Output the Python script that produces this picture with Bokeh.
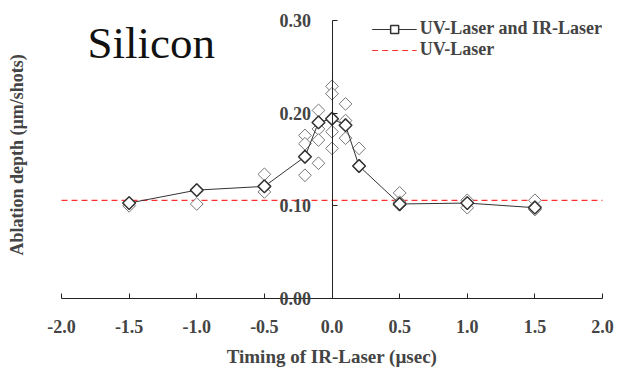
import math
from bokeh.plotting import figure
from bokeh.models import (FixedTicker, PrintfTickFormatter, Label, Legend, LegendItem, Range1d)
from bokeh.embed import file_html
from bokeh.resources import INLINE

# ---- data ----
timing = [-1.5, -1.0, -0.5, -0.2, -0.1, 0.0, 0.1, 0.2, 0.5, 1.0, 1.5]
mean_depth = [0.103, 0.117, 0.121, 0.153, 0.190, 0.194, 0.187, 0.143, 0.102, 0.103, 0.098]

shot_x = ([-1.5] * 2 + [-1.0] * 2 + [-0.5] * 3 + [-0.2] * 4 + [-0.1] * 5 +
          [0.0] * 5 + [0.1] * 4 + [0.2] * 2 + [0.5] * 3 + [1.0] * 3 + [1.5] * 3)
shot_y = [0.103, 0.100,
          0.117, 0.102,
          0.134, 0.121, 0.115,
          0.176, 0.167, 0.153, 0.133,
          0.203, 0.190, 0.183, 0.171, 0.146,
          0.229, 0.221, 0.194, 0.180, 0.162,
          0.210, 0.192, 0.187, 0.173,
          0.162, 0.143,
          0.114, 0.104, 0.101,
          0.106, 0.103, 0.098,
          0.106, 0.099, 0.096]

uv_level = 0.106
x_ticks = [-2.0, -1.5, -1.0, -0.5, 0.0, 0.5, 1.0, 1.5, 2.0]
y_ticks = [0.0, 0.10, 0.20, 0.30]

FONT = "Liberation Serif"

# frame covers the whole canvas; axes are drawn crossing at the origin
p = figure(width=620, height=369, output_backend="svg", toolbar_location=None, title=None,
           x_range=Range1d(-2.451, 2.133), y_range=Range1d(-0.0766, 0.3216),
           min_border=0)
p.outline_line_color = None
p.xgrid.visible = False
p.ygrid.visible = False
p.background_fill_color = "white"
p.border_fill_color = "white"

# x axis at y = 0
xa = p.xaxis[0]
xa.fixed_location = 0
xa.bounds = (x_ticks[0], x_ticks[-1])
xa.ticker = FixedTicker(ticks=x_ticks)
xa.formatter = PrintfTickFormatter(format="%.1f")
xa.axis_label = "Timing of IR-Laser (µsec)"
xa.axis_label_text_font = FONT
xa.axis_label_text_font_style = "bold"
xa.axis_label_text_font_size = "19px"
xa.axis_label_standoff = 10
xa.major_label_text_font = FONT
xa.major_label_text_font_style = "bold"
xa.major_label_text_font_size = "18px"
xa.major_label_standoff = 21
xa.major_tick_in = 5
xa.major_tick_out = 0
xa.minor_tick_line_color = None
xa.axis_line_color = "#222222"
xa.major_tick_line_color = "#222222"

# y axis at x = 0
ya = p.yaxis[0]
ya.fixed_location = 0
ya.bounds = (y_ticks[0], y_ticks[-1])
ya.ticker = FixedTicker(ticks=y_ticks)
ya.formatter = PrintfTickFormatter(format="%.2f")
ya.major_label_text_font = FONT
ya.major_label_text_font_style = "bold"
ya.major_label_text_font_size = "18px"
ya.major_label_standoff = 21
ya.major_tick_in = 5
ya.major_tick_out = 0
ya.minor_tick_line_color = None
ya.axis_line_color = "#222222"
ya.major_tick_line_color = "#222222"

# UV-laser reference
uv = p.line([x_ticks[0], x_ticks[-1]], [uv_level, uv_level], line_color="#ff3030",
            line_dash="6 4", line_width=1.2)

# all shots
p.scatter(shot_x, shot_y, marker="square", angle=math.pi / 4, size=9,
          fill_color="white", line_color="#777777", line_width=1)

# mean line
ln = p.line(timing, mean_depth, line_color="#333333", line_width=1)
mk = p.scatter(timing, mean_depth, marker="square", angle=math.pi / 4, size=9,
               fill_color="white", line_color="#333333", line_width=1.5)

legend = Legend(items=[LegendItem(label="UV-Laser and IR-Laser", renderers=[ln, mk]),
                       LegendItem(label="UV-Laser", renderers=[uv])],
                location="top_right")
legend.background_fill_alpha = 0
legend.border_line_color = None
legend.label_text_font = FONT
legend.label_text_font_style = "bold"
legend.label_text_font_size = "18px"
legend.glyph_width = 45
legend.glyph_height = 20
legend.label_height = 20
legend.label_standoff = 3
legend.spacing = 0
legend.padding = 0
legend.margin = 18
p.add_layout(legend)

p.add_layout(Label(x=-2.0, y=0.2755, x_offset=26, text="Silicon", text_font=FONT,
                   text_font_size="45px", text_baseline="alphabetic", text_color="#111111"))

p.add_layout(Label(x=-2.0, y=0.155, x_offset=-44, text="Ablation depth (µm/shots)",
                   angle=math.pi / 2, text_align="center", text_baseline="middle",
                   text_font=FONT, text_font_style="bold", text_font_size="18px"))

open("out.html", "w").write(file_html(p, INLINE))
